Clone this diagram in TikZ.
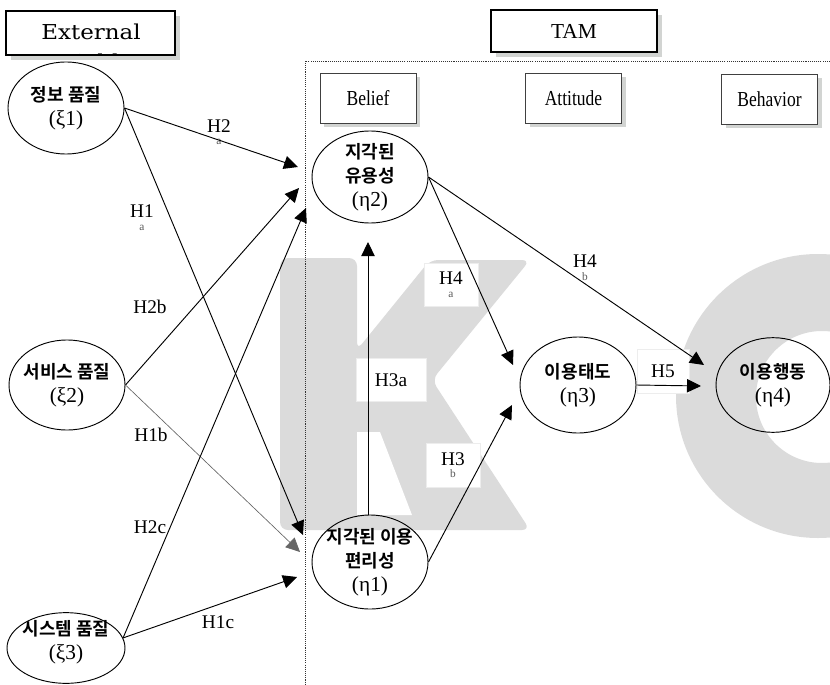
\documentclass[tikz,border=0pt]{standalone}
\usepackage{fontspec}
\usepackage{graphicx}
\setmainfont{Liberation Serif}
\newfontfamily\korfont{Noto Sans CJK KR}[BoldFont={Noto Sans CJK KR Bold}]
\newfontfamily\extfont{DejaVu Serif}
\usepackage{tikz}
\usetikzlibrary{arrows.meta,shapes.geometric,shadows}
\definecolor{markgray}{RGB}{219,219,219}
\definecolor{shadegray}{RGB}{210,212,210}
\newcommand{\kor}[1]{{\korfont\bfseries\fontsize{13.5}{18}\selectfont #1}}
\newcommand{\cnd}[1]{\scalebox{.82}[1]{#1}}
\newcommand{\hsub}[1]{{\fontsize{8.5}{9}\selectfont\color{black!65}#1}}
\tikzset{every picture/.style={line width=.7pt}}

\begin{document}
\begin{tikzpicture}[x=.75pt,y=-.75pt,>={Triangle[length=10.5pt,width=10pt]},
 construct/.style={ellipse,draw,inner sep=0pt,minimum width=87pt,minimum height=69pt},
 inside/.style={align=center,font=\fontsize{16}{18}\selectfont,inner sep=0pt},
 hyp/.style={align=center,font=\fontsize{14.5}{13}\selectfont,inner sep=1pt},
 hypbox/.style={hyp,fill=white,draw=black!7,line width=.4pt},
 headbox/.style={draw,line width=2pt,fill=white,
  drop shadow={shadow xshift=3.5pt,shadow yshift=-3.5pt,fill=shadegray,opacity=1}},
 stagebox/.style={draw=black!75,line width=.6pt,fill=white,
  minimum width=72pt,minimum height=37.5pt,font=\fontsize{16}{18}\selectfont,
  drop shadow={shadow xshift=3pt,shadow yshift=-3pt,fill=shadegray,opacity=1}},
 link/.style={->,line width=.7pt}]
 \useasboundingbox (0,0) rectangle (830,684);

 % watermark behind everything
 \fill[markgray,rounded corners=6pt] (280,258) -- (357,258) -- (357,350)
  -- (430,260) -- (530,260) -- (432,380) -- (530,530) -- (280,530) -- cycle;
 \fill[white] (357,432) -- (380,432) -- (412,515) -- (357,515) -- cycle;
 \fill[markgray,even odd rule] (818,396) circle[radius=142] (822,397) circle[radius=66];

 % dotted frame round the TAM part
 \draw[black!80,line width=.5pt,dash pattern=on .8pt off .8pt]
  (830,61) -- (305,61) -- (305,684);

 % headings
 \node[headbox,minimum width=126.75pt,minimum height=33pt] (ext) at (90.5,33) {};
 \node[font=\extfont\fontsize{15.4}{20}\selectfont] (exttxt) at (91,32)
  {\scalebox{1.12}[1]{External}};
 \begin{scope}
  \clip ([shift={(1.2pt,-1.2pt)}]ext.north west) rectangle ([shift={(-1.2pt,1.2pt)}]ext.south east);
  \node[font=\extfont\fontsize{15.4}{20}\selectfont,anchor=base] (extvar) at (91,70)
   {\scalebox{1.12}[1]{Variables}};
 \end{scope}
 \node[headbox,minimum width=124.5pt,minimum height=31.5pt,
  font=\fontsize{16}{18}\selectfont] (tam) at (574,31) {TAM};
 \node[stagebox] (belief) at (368,98) {\cnd{Belief}};
 \node[stagebox] (attitude) at (573.5,98.5) {\cnd{Attitude}};
 \node[stagebox] (behavior) at (769.5,99.5) {\cnd{Behavior}};

 % constructs
 \node[construct,label={[inside]center:{\kor{정보 품질}\\(ξ1)}}] (xi1) at (66,108) {};
 \node[construct,minimum height=67.5pt,
  label={[inside]center:{\kor{서비스 품질}\\(ξ2)}}] (xi2) at (67,385) {};
 \node[construct,minimum width=88.5pt,minimum height=53pt,
  label={[inside,yshift=4pt]center:{\kor{시스템 품질}\\(ξ3)}}] (xi3) at (66,648) {};
 \node[construct,label={[inside]center:{\kor{지각된}\\\kor{유용성}\\(η2)}}] (eta2) at (370,177) {};
 \node[construct,minimum height=70.5pt,
  label={[inside]center:{\kor{지각된 이용}\\\kor{편리성}\\(η1)}}] (eta1) at (370,562) {};
 \node[construct,minimum height=72pt,
  label={[inside]center:{\kor{이용태도}\\(η3)}}] (eta3) at (578,385) {};
 \node[construct,minimum width=85.5pt,minimum height=71pt,
  label={[inside]center:{\kor{이용행동}\\(η4)}}] (eta4) at (773,385) {};

 % hypothesis labels
 \node[hyp] (h2a) at (219,132) {H2\\[-3.5pt]\hsub{a}};
 \node[hyp] (h1a) at (142,218) {H1\\[-3.5pt]\hsub{a}};
 \node[hyp] (h2b) at (150,307) {H2b};
 \node[hyp] (h1b) at (151,435) {H1b};
 \node[hyp] (h2c) at (150,527) {H2c};
 \node[hyp] (h1c) at (218,622) {H1c};
 \node[hypbox,minimum width=40.5pt,minimum height=32pt] (h4a) at (451,285) {H4\\[-3.5pt]\hsub{a}};
 \node[hypbox,minimum width=52.5pt,minimum height=32pt] (h3a) at (391,380) {H3a};
 \node[hypbox,minimum width=40.5pt,minimum height=33pt] (h3b) at (453,465) {H3\\[-3.5pt]\hsub{b}};
 \node[hyp] (h4b) at (585,268) {H4\\[-3.5pt]\hsub{b}};
 \node[hypbox,minimum width=39pt,minimum height=33pt] (h5) at (663,371) {H5};

 % free arrow ends in front of the targets
 \coordinate (t2a) at (298,167);
 \coordinate (t2b) at (299,188);
 \coordinate (t2c) at (306,208);
 \coordinate (t1a) at (303,535);
 \coordinate (t1b) at (300,552);
 \coordinate (t1c) at (297,577);
 \coordinate (t3a) at (368,242);
 \coordinate (t4a) at (513,365);
 \coordinate (t3b) at (512,405);
 \coordinate (t4b) at (704,365);
 \coordinate (t5) at (701,386);

 % paths
 \draw[link] (xi1.east) -- (t2a);
 \draw[link] (xi1.east) -- (t1a);
 \draw[link] (xi2.east) -- (t2b);
 \draw[link,black!60,line width=.5pt] (xi2.east) -- (t1b);
 \draw[link] (xi3.10) -- (t2c);
 \draw[link] (xi3.10) -- (t1c);
 \draw[link] (eta1.north -| t3a) -- (t3a);
 \draw[link] (eta2.east) -- (t4a);
 \draw[link] (eta2.east) -- (t4b);
 \draw[link] (eta1.east) -- (t3b);
 \draw[link] (eta3.east) -- (t5);
\end{tikzpicture}
\end{document}
